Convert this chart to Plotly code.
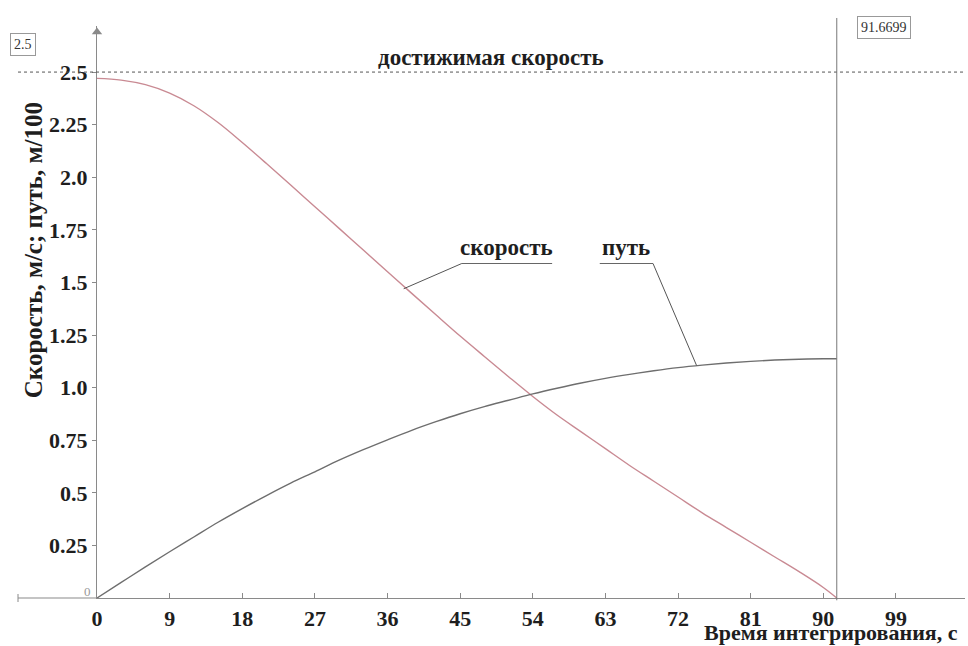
import plotly.graph_objects as go

# ---- data ----
t = [0, 3, 6, 9, 12, 15, 18, 21, 24, 27, 30, 33, 36, 39, 42, 45, 48, 51, 54,
     57, 60, 63, 66, 69, 72, 75, 78, 81, 84, 87, 90, 91.6699]
speed = [2.47, 2.462, 2.44, 2.40, 2.34, 2.26, 2.165, 2.065, 1.963, 1.86, 1.757, 1.654,
         1.551, 1.448, 1.346, 1.245, 1.148, 1.052, 0.958, 0.870, 0.79, 0.71, 0.63, 0.555,
         0.48, 0.405, 0.335, 0.265, 0.195, 0.125, 0.05, 0.0]
path = [0.0, 0.074, 0.148, 0.22, 0.29, 0.36, 0.425, 0.487, 0.546, 0.60, 0.655,
        0.705, 0.752, 0.797, 0.838, 0.876, 0.91, 0.94, 0.97, 0.997, 1.022, 1.044,
        1.063, 1.08, 1.095, 1.107, 1.117, 1.125, 1.131, 1.135, 1.137, 1.137]
x_ticks = [0, 9, 18, 27, 36, 45, 54, 63, 72, 81, 90, 99]
y_ticks = [0.25, 0.5, 0.75, 1.0, 1.25, 1.5, 1.75, 2.0, 2.25, 2.5]
y_tick_text = ["0.25", "0.5", "0.75", "1.0", "1.25", "1.5", "1.75", "2.0", "2.25", "2.5"]
v_limit = 2.5
t_end = 91.6699

FONT = "Liberation Serif"
AX = "#8a8a8a"
TXT = "#1e1e1e"

fig = go.Figure()
fig.add_trace(go.Scatter(x=t, y=speed, mode="lines", line=dict(color="#c98a93", width=1.4),
                         line_shape="spline", hoverinfo="skip"))
fig.add_trace(go.Scatter(x=t, y=path, mode="lines", line=dict(color="#6e6e6e", width=1.4),
                         line_shape="spline", hoverinfo="skip"))
# y axis arrow
fig.add_trace(go.Scatter(x=[0], y=[2.69], mode="markers", cliponaxis=False,
                         marker=dict(symbol="triangle-up", size=9, color=AX), hoverinfo="skip"))

XL = -0.091  # left end of the x axis line (paper)
shapes = [
    dict(type="line", xref="paper", yref="paper", x0=XL, x1=0, y0=0, y1=0,
         line=dict(color=AX, width=1.2)),
    dict(type="line", xref="paper", yref="paper", x0=XL, x1=XL, y0=-0.007, y1=0.007,
         line=dict(color=AX, width=1)),
    dict(type="line", xref="paper", yref="y", x0=XL, x1=1.0, y0=v_limit, y1=v_limit,
         line=dict(color="#555555", width=1, dash="dot")),
    dict(type="line", xref="x", yref="paper", x0=t_end, x1=t_end, y0=-0.004, y1=1.014,
         line=dict(color="#777777", width=1)),
    dict(type="line", xref="x", yref="y", x0=45.2, x1=56.4, y0=1.59, y1=1.59,
         line=dict(color="#666666", width=1)),
    dict(type="line", xref="x", yref="y", x0=45.2, x1=38.0, y0=1.59, y1=1.47,
         line=dict(color="#555555", width=1)),
    dict(type="line", xref="x", yref="y", x0=62.3, x1=68.9, y0=1.59, y1=1.59,
         line=dict(color="#666666", width=1)),
    dict(type="line", xref="x", yref="y", x0=68.9, x1=74.3, y0=1.59, y1=1.105,
         line=dict(color="#555555", width=1)),
]

C = dict(xanchor="center", yanchor="middle", showarrow=False)
annotations = [
    dict(text="<b>достижимая скорость</b>", x=48.8, y=2.57, xref="x", yref="y",
         font=dict(family=FONT, size=23, color=TXT), **C),
    dict(text="<b>скорость</b>", x=50.8, y=1.665, xref="x", yref="y",
         font=dict(family=FONT, size=23, color=TXT), **C),
    dict(text="<b>путь</b>", x=65.6, y=1.665, xref="x", yref="y",
         font=dict(family=FONT, size=23, color=TXT), **C),
    dict(text="2.5", xref="paper", yref="paper", x=-0.085, y=0.967,
         font=dict(family=FONT, size=14, color="#333"), bordercolor="#999", borderwidth=1,
         borderpad=3, bgcolor="white", **C),
    dict(text="91.6699", xref="paper", yref="paper", x=0.907, y=0.998,
         font=dict(family=FONT, size=14, color="#333"), bordercolor="#999", borderwidth=1,
         borderpad=3, bgcolor="white", **C),
    dict(text="0", xref="paper", yref="paper", x=-0.0104, y=0.012,
         font=dict(family=FONT, size=13, color="#999"), **C),
    dict(text="<b>Скорость, м/с; путь, м/100</b>", xref="paper", yref="paper",
         x=-0.0737, y=0.608, textangle=-90,
         font=dict(family=FONT, size=25, color=TXT), **C),
    dict(text="<b>Время интегрирования, с</b>", xref="paper", yref="paper",
         x=0.994, y=-0.061, xanchor="right", yanchor="middle", showarrow=False,
         font=dict(family=FONT, size=22, color=TXT)),
]

fig.update_layout(
    width=968, height=646,
    margin=dict(l=97, r=3, t=26, b=48, pad=0),
    paper_bgcolor="white", plot_bgcolor="white",
    showlegend=False,
    shapes=shapes, annotations=annotations,
    xaxis=dict(range=[0, 107.56], tickvals=x_ticks, ticktext=[f"<b>{v}</b>" for v in x_ticks],
               showgrid=False, zeroline=False, showline=True, linecolor=AX, linewidth=1.2,
               ticks="inside", ticklen=5, tickcolor=AX,
               tickfont=dict(family=FONT, size=22, color=TXT)),
    yaxis=dict(range=[0, 2.719], tickvals=y_ticks, ticktext=[f"<b>{s}</b>" for s in y_tick_text],
               showgrid=False, zeroline=False, showline=True, linecolor=AX, linewidth=1.2,
               ticks="outside", ticklen=4, tickcolor=AX,
               tickfont=dict(family=FONT, size=22, color=TXT)),
)

fig.write_html("out.html", config={"displayModeBar": False},
               post_script="document.body.style.margin='0';"
                           "document.documentElement.style.overflow='hidden';")
